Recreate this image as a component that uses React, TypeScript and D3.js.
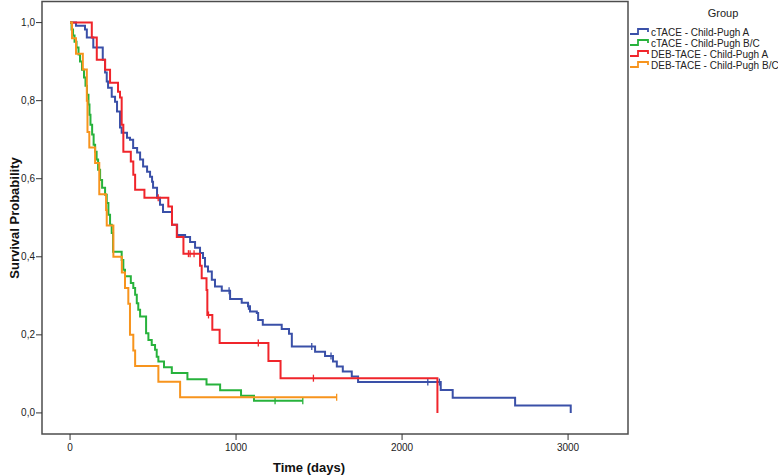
import React from "react";
import * as d3 from "d3";

const GROUPS = ["cTACE - Child-Pugh A", "cTACE - Child-Pugh B/C", "DEB-TACE - Child-Pugh A", "DEB-TACE - Child-Pugh B/C"];
const COLORS = ["#3a50a8", "#27b23c", "#f0252b", "#f7941d"];

const BLUE_T = [36, 90, 101, 140, 197, 211, 221, 229, 251, 271, 283, 301, 311, 343, 361, 380, 404, 422, 440, 464, 482, 494, 500, 524, 542, 560, 614, 645, 693, 723, 753, 783, 801, 813, 831, 854, 873, 914, 964, 1034, 1072, 1084, 1125, 1133, 1161, 1275, 1319, 1336, 1476, 1536, 1584, 1607, 1643, 1697, 1735, 2233, 2305, 2681, 3016];
const BLUE_S = [0.992, 0.982, 0.962, 0.936, 0.905, 0.872, 0.849, 0.833, 0.810, 0.797, 0.772, 0.731, 0.718, 0.705, 0.700, 0.679, 0.667, 0.649, 0.631, 0.618, 0.605, 0.592, 0.577, 0.551, 0.533, 0.515, 0.482, 0.456, 0.451, 0.438, 0.423, 0.410, 0.397, 0.375, 0.362, 0.341, 0.324, 0.313, 0.292, 0.282, 0.273, 0.260, 0.256, 0.238, 0.226, 0.215, 0.203, 0.170, 0.157, 0.146, 0.132, 0.119, 0.106, 0.093, 0.079, 0.059, 0.039, 0.019, 0];
const BLUE_CENSOR = [958, 1075, 1456, 1572, 2155, 2225];
const BLUE_END = 3016;

const GREEN_T = [9, 18, 27, 39, 51, 60, 72, 84, 93, 102, 111, 117, 123, 133, 142, 151, 160, 169, 181, 193, 211, 221, 231, 241, 251, 259, 311, 321, 331, 366, 381, 392, 402, 411, 422, 458, 472, 492, 512, 522, 532, 566, 613, 707, 822, 904, 1030, 1108];
const GREEN_S = [0.982, 0.967, 0.951, 0.936, 0.918, 0.900, 0.879, 0.859, 0.838, 0.815, 0.790, 0.764, 0.738, 0.713, 0.687, 0.669, 0.649, 0.623, 0.597, 0.577, 0.559, 0.538, 0.508, 0.482, 0.461, 0.413, 0.392, 0.367, 0.350, 0.333, 0.320, 0.303, 0.281, 0.264, 0.247, 0.204, 0.187, 0.174, 0.162, 0.144, 0.132, 0.117, 0.102, 0.086, 0.073, 0.058, 0.044, 0.031];
const GREEN_CENSOR = [1235, 1402];
const GREEN_END = 1402;

const RED_T = [131, 161, 211, 241, 289, 301, 311, 321, 366, 381, 392, 448, 592, 614, 643, 683, 783, 793, 822, 827, 857, 901, 1195, 1268, 2213];
const RED_S = [0.962, 0.905, 0.879, 0.846, 0.823, 0.808, 0.738, 0.669, 0.644, 0.610, 0.572, 0.551, 0.529, 0.482, 0.451, 0.408, 0.377, 0.345, 0.315, 0.251, 0.213, 0.179, 0.133, 0.089, 0];
const RED_CENSOR = [531, 713, 723, 747, 834, 1134, 1466];
const RED_END = 2213;

const ORANGE_T = [12, 36, 77, 101, 105, 116, 151, 176, 217, 221, 261, 312, 331, 351, 361, 381, 392, 532, 663];
const ORANGE_S = [0.96, 0.92, 0.88, 0.80, 0.72, 0.68, 0.64, 0.56, 0.52, 0.48, 0.40, 0.36, 0.32, 0.28, 0.20, 0.16, 0.12, 0.08, 0.04];
const ORANGE_CENSOR = [1606];
const ORANGE_END = 1606;

const X_TICKS = [0, 1000, 2000, 3000];
const Y_TICKS = [0, 0.2, 0.4, 0.6, 0.8, 1.0];

const W = 778, H = 476;
const FL = 42, FR = 628, FT = 1.5, FB = 434;
const FONT = "'Liberation Sans', Arial, sans-serif";

const series = [
  { t: BLUE_T, s: BLUE_S, c: BLUE_CENSOR, end: BLUE_END, color: COLORS[0] },
  { t: GREEN_T, s: GREEN_S, c: GREEN_CENSOR, end: GREEN_END, color: COLORS[1] },
  { t: RED_T, s: RED_S, c: RED_CENSOR, end: RED_END, color: COLORS[2] },
  { t: ORANGE_T, s: ORANGE_S, c: ORANGE_CENSOR, end: ORANGE_END, color: COLORS[3] },
];

export default function App() {
  const x = d3.scaleLinear().domain([-169, 3361]).range([FL, FR]);
  const y = d3.scaleLinear().domain([-0.054, 1.054]).range([FB, FT]);
  const line = d3.line<[number, number]>().x(d => x(d[0])).y(d => y(d[1])).curve(d3.curveStepAfter);
  const fmt = (v: number) => d3.format(".1f")(v).replace(".", ",");

  const survAt = (ser: typeof series[0], tt: number) => {
    let v = 1;
    for (let i = 0; i < ser.t.length; i++) if (ser.t[i] <= tt) v = ser.s[i];
    return v;
  };

  return (
    <div style={{ position: "absolute", left: 0, top: 0, width: W, height: H, background: "#fff" }}>
      <svg width={W} height={H} style={{ display: "block" }} fontFamily={FONT}>
        <rect x={0} y={0} width={W} height={H} fill="#fff" />
        {series.map((ser, i) => {
          const pts: [number, number][] = [[0, 1]];
          ser.t.forEach((tt, j) => pts.push([tt, ser.s[j]]));
          const last = ser.s[ser.s.length - 1];
          if (ser.end > ser.t[ser.t.length - 1]) pts.push([ser.end, last]);
          return (
            <g key={i}>
              <path d={line(pts) || ""} fill="none" stroke={ser.color} strokeWidth={2} strokeLinejoin="miter" />
              {ser.c.map((ct, k) => {
                const sv = survAt(ser, ct);
                return <line key={k} x1={x(ct)} x2={x(ct)} y1={y(sv) - 3.5} y2={y(sv) + 3.5} stroke={ser.color} strokeWidth={1.3} />;
              })}
            </g>
          );
        })}
        <rect x={FL} y={FT} width={FR - FL} height={FB - FT} fill="none" stroke="#4d4d4d" strokeWidth={1.5} />
        {Y_TICKS.map((v, i) => (
          <g key={i}>
            <line x1={FL - 6} x2={FL} y1={y(v)} y2={y(v)} stroke="#333" strokeWidth={1} />
            <text x={35} y={y(v) + 3.5} textAnchor="end" fontSize={10} fill="#222">{fmt(v)}</text>
          </g>
        ))}
        {X_TICKS.map((v, i) => (
          <g key={i}>
            <line x1={x(v)} x2={x(v)} y1={FB} y2={FB + 6} stroke="#333" strokeWidth={1} />
            <text x={x(v)} y={451} textAnchor="middle" fontSize={10} fill="#222">{v}</text>
          </g>
        ))}
        <text x={309} y={472} textAnchor="middle" fontSize={13} fontWeight="bold" fill="#111">Time (days)</text>
        <text transform={`translate(19,${218}) rotate(-90)`} textAnchor="middle" fontSize={13} fontWeight="bold" fill="#111">Survival Probability</text>
        <text x={723} y={17} textAnchor="middle" fontSize={11} fill="#222">Group</text>
        {GROUPS.map((g, i) => {
          const cy = 32 + i * 11;
          return (
            <g key={i}>
              <path d={`M630,${cy + 2}H638V${cy - 3}H648V${cy}`} fill="none" stroke={COLORS[i]} strokeWidth={1.8} />
              <text x={651} y={cy + 3.5} fontSize={10} fill="#222">{g}</text>
            </g>
          );
        })}
      </svg>
    </div>
  );
}
